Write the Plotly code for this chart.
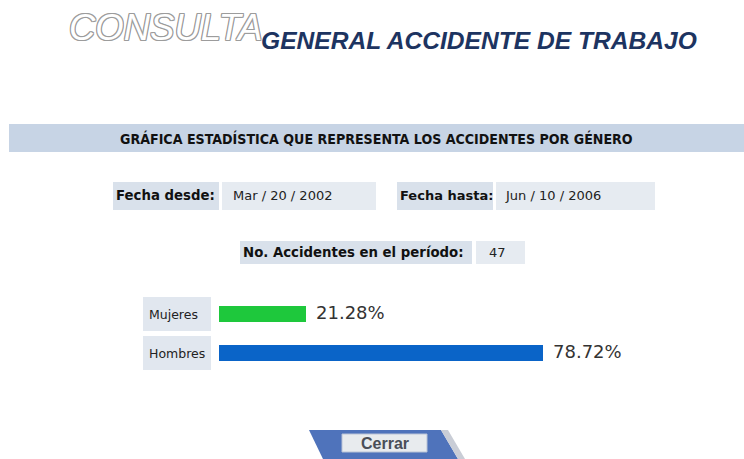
import plotly.graph_objects as go

W, H = 744, 459

# --- data ---
generos = ["Mujeres", "Hombres"]
porcentajes = [21.28, 78.72]
colores = ["#1ec83c", "#0a64c8"]
fecha_desde = "Mar / 20 / 2002"
fecha_hasta = "Jun / 10 / 2006"
total_accidentes = 47


def px(x):
    return x / W


def py(y):
    return 1 - y / H


fig = go.Figure()

fig.add_trace(go.Bar(
    x=porcentajes,
    y=generos,
    orientation="h",
    marker=dict(color=colores, line=dict(width=0)),
    width=0.41,
    hoverinfo="skip",
    showlegend=False,
))

# bar plot area: 0% at x=219px, 100% at x=630px
bar_top, bar_bot = 293.5, 371.5
fig.update_xaxes(domain=[px(219), px(630)], range=[0, 100], visible=False, fixedrange=True)
fig.update_yaxes(domain=[py(bar_bot), py(bar_top)], range=[1.5, -0.5], visible=False,
                 type="category", categoryorder="array", categoryarray=generos, fixedrange=True)

shapes = []
annotations = []


def rect(x0, y0, x1, y1, color, line=None):
    shapes.append(dict(type="rect", xref="paper", yref="paper",
                       x0=px(x0), x1=px(x1), y0=py(y1), y1=py(y0),
                       fillcolor=color, line=line or dict(width=0), layer="below"))


def text(x, y, s, size, color="#000", family="DejaVu Sans", weight="normal",
         xanchor="left", style="normal", shadow=None):
    font = dict(size=size, color=color, family=family, weight=weight, style=style)
    if shadow:
        font["shadow"] = shadow
    annotations.append(dict(xref="paper", yref="paper", x=px(x), y=py(y), text=s,
                            showarrow=False, xanchor=xanchor, yanchor="middle",
                            font=font))


# header
outline = ", ".join(f"{dx}px {dy}px 0 #9c9c9c" for dx, dy in
                    [(1, 0), (-1, 0), (0, 1), (0, -1), (1, 1), (-1, -1), (1, -1), (-1, 1)])
text(67, 27, "CONSULTA", 36.5, color="#ffffff", family="Liberation Sans",
     style="italic", shadow=outline)
text(259, 40, "GENERAL ACCIDENTE DE TRABAJO", 24.6, color="#1d3461",
     family="Liberation Sans", weight="bold", style="italic")

# title banner
rect(9, 124, 744, 152, "#c7d4e5")
text(376, 138, "GRÁFICA ESTADÍSTICA QUE REPRESENTA LOS ACCIDENTES POR GÉNERO", 14.1,
     color="#111", family="Liberation Sans Narrow, DejaVu Sans Condensed",
     weight="bold", xanchor="center")

label_bg = "#d9e1eb"
value_bg = "#e6ebf1"

# date range
rect(113, 182, 219, 210, label_bg)
text(114, 196, "Fecha desde:", 13.3, color="#111", weight="bold")
rect(222, 182, 376, 210, value_bg)
text(231, 196, fecha_desde, 13, color="#222")
rect(397, 182, 493, 210, label_bg)
text(398, 196, "Fecha hasta:", 13, color="#111", weight="bold")
rect(496, 182, 655, 210, value_bg)
text(503, 196, fecha_hasta, 13, color="#222")

# total
rect(240, 241, 472, 264, label_bg)
text(241, 253, "No. Accidentes en el período:", 13.3, color="#111", weight="bold")
rect(476, 241, 525, 264, value_bg)
text(498, 253, str(total_accidentes), 13, color="#222", xanchor="center")

# category cells
for g, yc in zip(generos, [314, 353]):
    rect(143, yc - 17, 211, yc + 17, "#e1e7ef")
    text(147, yc, g, 12.5, color="#222")

# value labels next to each bar
for g, v in zip(generos, porcentajes):
    annotations.append(dict(xref="x", yref="y", x=v, y=g, text=f"{v:.2f}%",
                            showarrow=False, xanchor="left", yanchor="middle",
                            xshift=8, yshift=1,
                            font=dict(size=18, color="#333", family="DejaVu Sans")))


# close button
def P(x, y):
    return f"{px(x):.5f},{py(y):.5f}"


shapes.append(dict(type="path", xref="paper", yref="paper",
                   path=f"M {P(309, 430)} L {P(441, 430)} L {P(458, 459)} L {P(323, 459)} Z",
                   fillcolor="#4f73bb", line=dict(width=0), layer="below"))
shapes.append(dict(type="path", xref="paper", yref="paper",
                   path=f"M {P(441, 430)} L {P(448, 430)} L {P(465, 459)} L {P(458, 459)} Z",
                   fillcolor="#c9cdd6", line=dict(width=0), layer="below"))
rect(342, 434, 427, 452, "#e8ebee", line=dict(color="#b9c3d6", width=1))
text(384.5, 443, "Cerrar", 16, color="#4a4e57", family="Liberation Sans",
     weight="bold", xanchor="center")

fig.update_layout(
    width=W, height=H,
    margin=dict(l=0, r=0, t=0, b=0),
    paper_bgcolor="#ffffff",
    plot_bgcolor="rgba(0,0,0,0)",
    shapes=shapes,
    annotations=annotations,
    bargap=0,
)

fig.write_html("out.html", config={"displayModeBar": False})
